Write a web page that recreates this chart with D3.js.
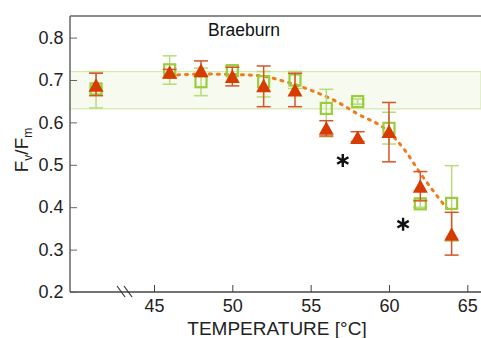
<!DOCTYPE html>
<html>
<head>
  <meta charset="UTF-8">
  <style>
    body { margin: 0; background: #fff; }
    svg { display: block; font-family: "Liberation Sans", Arial, sans-serif; }
  </style>
</head>
<body>
<svg id="chart"></svg>
<script src="https://d3js.org/d3.v7.min.js"></script>
<script>
// temperatures (first one is the control, drawn left of the axis break)
let temps = [41.3, 46, 48, 50, 52, 54, 56, 58, 60, 62, 64];

// green open squares
let sqMean = [0.679, 0.724, 0.696, 0.722, 0.696, 0.700, 0.633, 0.649, 0.586, 0.408, 0.409];
let sqHi   = [0.718, 0.757, 0.728, 0.734, 0.720, 0.720, 0.678, 0.655, 0.624, 0.418, 0.498];
let sqLo   = [0.634, 0.690, 0.663, 0.710, 0.660, 0.680, 0.566, 0.643, 0.549, 0.400, 0.320];

// red triangles
let trMean = [0.685, 0.716, 0.720, 0.706, 0.684, 0.674, 0.584, 0.562, 0.576, 0.447, 0.334];
let trHi   = [0.716, 0.725, 0.745, 0.730, 0.733, 0.716, 0.604, 0.578, 0.647, 0.484, 0.388];
let trLo   = [0.663, 0.705, 0.708, 0.686, 0.637, 0.637, 0.568, 0.555, 0.507, 0.415, 0.287];

// dotted fit curve
let fitT = [46.5, 48, 50, 52, 53, 55, 56.5, 58, 59.9, 61, 62, 63, 63.7];
let fitV = [0.712, 0.714, 0.713, 0.709, 0.700, 0.676, 0.652, 0.620, 0.580, 0.535, 0.480, 0.430, 0.397];

// shaded control band
let band = [0.632, 0.72];

// significance asterisks
let starT = [57.05, 60.9];
let starV = [0.51, 0.36];

let xTicks = [45, 50, 55, 60, 65];
let yTicks = [0.2, 0.3, 0.4, 0.5, 0.6, 0.7, 0.8];

let width = 481, height = 338;
let pLeft = 70, pRight = 481, pTop = 16, pBottom = 292;

let svg = d3.select("#chart").attr("width", width).attr("height", height);

let x = d3.scaleLinear().domain([45, 65]).range([154, 467.3]);
let y = d3.scaleLinear().domain([0.2, 0.8]).range([pBottom, 37.6]);

let axisCol = "#666";
let red = "#d63c00", redBar = "#d9532a";
let green = "#9acd3c", greenBar = "#b6dc7a";

// band
svg.append("rect")
    .attr("x", pLeft).attr("width", pRight - pLeft)
    .attr("y", y(band[1])).attr("height", y(band[0]) - y(band[1]))
    .attr("fill", "#f7faef")
    .attr("stroke", "#d6ebb0")
    .attr("stroke-width", 1.3);

// frame lines
svg.append("line").attr("x1", pLeft).attr("x2", pRight).attr("y1", pTop).attr("y2", pTop)
    .attr("stroke", axisCol).attr("stroke-width", 1.5);
svg.append("line").attr("x1", pLeft).attr("x2", pLeft).attr("y1", pTop).attr("y2", pBottom)
    .attr("stroke", axisCol).attr("stroke-width", 1.5);
svg.append("line").attr("x1", pLeft).attr("x2", pRight).attr("y1", pBottom).attr("y2", pBottom)
    .attr("stroke", "#444").attr("stroke-width", 1.5);

// axis break marks
[117, 124].forEach(bx => {
    svg.append("line").attr("x1", bx).attr("y1", pBottom - 6).attr("x2", bx + 8).attr("y2", pBottom + 5)
        .attr("stroke", "#333").attr("stroke-width", 1.2);
});

// axes
let xAxis = svg.append("g")
    .attr("transform", "translate(0," + pBottom + ")")
    .call(d3.axisBottom(x).tickValues(xTicks).tickSize(-7).tickPadding(7.5).tickFormat(d3.format("d")));
xAxis.select(".domain").remove();
xAxis.selectAll("line").attr("stroke", "#444");
xAxis.selectAll("text").attr("font-size", 18).attr("fill", "#222")
    .attr("font-family", "Liberation Sans, Arial, sans-serif");

let yAxis = svg.append("g")
    .attr("transform", "translate(" + pLeft + ",0)")
    .call(d3.axisLeft(y).tickValues(yTicks).tickSize(-7).tickPadding(6.5).tickFormat(d3.format(".1f")));
yAxis.select(".domain").remove();
yAxis.selectAll("line").attr("stroke", axisCol);
yAxis.selectAll("text").attr("font-size", 18).attr("fill", "#222")
    .attr("font-family", "Liberation Sans, Arial, sans-serif");

// labels
svg.append("text")
    .attr("x", 277).attr("y", 335)
    .attr("text-anchor", "middle")
    .attr("font-size", 19).attr("fill", "#222")
    .text("TEMPERATURE [°C]");

let yl = svg.append("text")
    .attr("transform", "translate(28,150) rotate(-90)")
    .attr("text-anchor", "middle")
    .attr("font-size", 19).attr("fill", "#222");
yl.append("tspan").text("F");
yl.append("tspan").attr("font-size", 12).attr("dy", 4).text("v");
yl.append("tspan").attr("dy", -4).text("/F");
yl.append("tspan").attr("font-size", 12).attr("dy", 4).text("m");

svg.append("text")
    .attr("x", 244).attr("y", 36)
    .attr("text-anchor", "middle")
    .attr("font-size", 17.5).attr("fill", "#111")
    .text("Braeburn");

// fit curve
let fit = fitT.map((t, i) => [t, fitV[i]]);
svg.append("path")
    .datum(fit)
    .attr("d", d3.line().x(d => x(d[0])).y(d => y(d[1])).curve(d3.curveMonotoneX))
    .attr("fill", "none")
    .attr("stroke", "#f27a1a")
    .attr("stroke-width", 3)
    .attr("stroke-dasharray", "2,6")
    .attr("stroke-linecap", "round");

// error bars helper
function errBars(means, his, los, col, cls) {
    let g = svg.append("g").attr("class", cls);
    temps.forEach((t, i) => {
        let cx = x(t);
        g.append("line").attr("x1", cx).attr("x2", cx).attr("y1", y(his[i])).attr("y2", y(los[i]))
            .attr("stroke", col).attr("stroke-width", 1.5);
        [his[i], los[i]].forEach(v => {
            g.append("line").attr("x1", cx - 7).attr("x2", cx + 7).attr("y1", y(v)).attr("y2", y(v))
                .attr("stroke", col).attr("stroke-width", 1.5);
        });
    });
    return g;
}

// green squares
errBars(sqMean, sqHi, sqLo, greenBar, "sq-err");
svg.append("g").selectAll("rect")
    .data(temps)
    .enter().append("rect")
    .attr("x", d => x(d) - 5.5)
    .attr("y", (d, i) => y(sqMean[i]) - 5.5)
    .attr("width", 11).attr("height", 11)
    .attr("fill", "none")
    .attr("stroke", green)
    .attr("stroke-width", 2.2);

// red triangles
errBars(trMean, trHi, trLo, redBar, "tr-err");
svg.append("g").selectAll("path")
    .data(temps)
    .enter().append("path")
    .attr("transform", (d, i) => "translate(" + x(d) + "," + y(trMean[i]) + ")")
    .attr("d", "M0,-8L7.5,5.5L-7.5,5.5Z")
    .attr("fill", red);

// asterisks
svg.append("g").selectAll("path")
    .data(starT)
    .enter().append("path")
    .attr("transform", (d, i) => "translate(" + x(d) + "," + y(starV[i]) + ")")
    .attr("d", d3.symbol().type(d3.symbolAsterisk).size(120))
    .attr("fill", "none")
    .attr("stroke", "#111")
    .attr("stroke-width", 2.4);
</script>
</body>
</html>
